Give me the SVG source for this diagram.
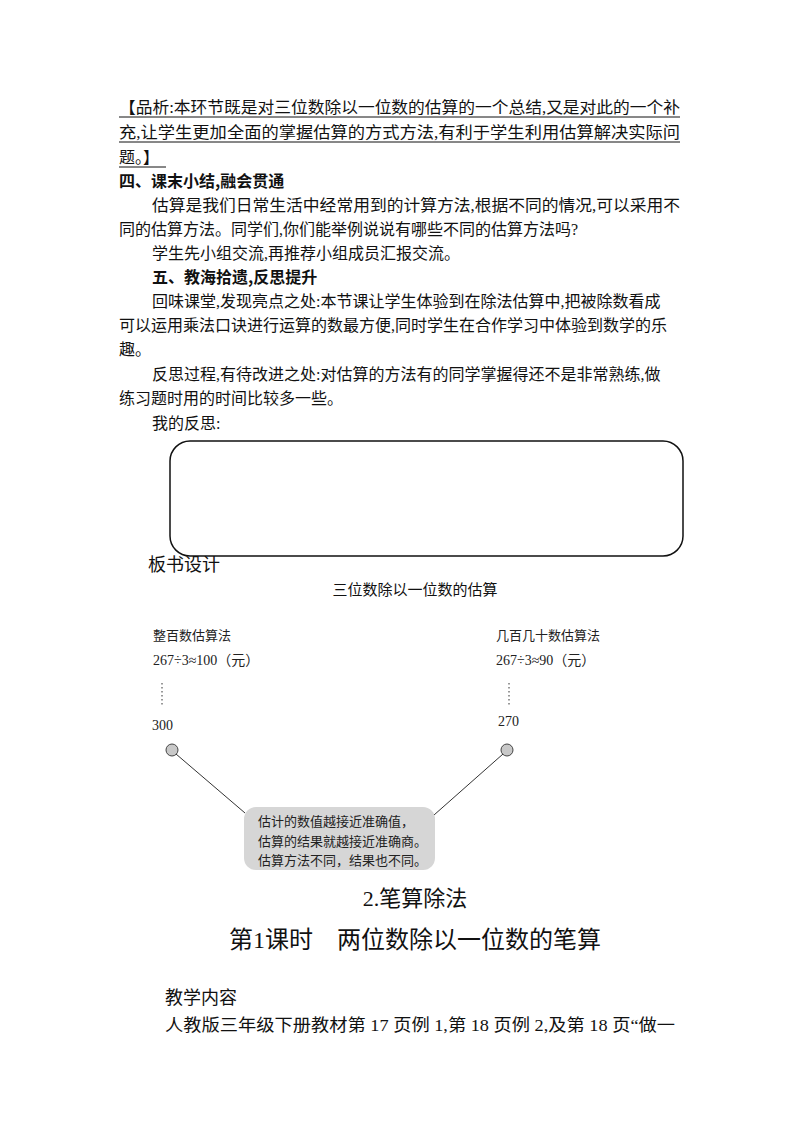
<svg xmlns="http://www.w3.org/2000/svg" width="800" height="1132" viewBox="0 0 800 1132">
<style>
.t{font-family:"Liberation Serif","Noto Sans CJK SC",serif;font-size:16px;fill:#111}
.h{font-family:"Noto Sans CJK SC",sans-serif;font-size:16px;fill:#111;font-weight:bold}
.s{font-family:"Liberation Serif","Noto Sans CJK SC",serif;font-size:14px;fill:#222}
.b{font-family:"Noto Sans CJK SC",serif;font-size:13px;fill:#222}
.ln{stroke:#333;stroke-width:1;fill:none}
</style>
<rect width="800" height="1132" fill="#fff"/>
<g id="text">
<text class="t" x="119" y="113" textLength="561" lengthAdjust="spacingAndGlyphs">【品析:本环节既是对三位数除以一位数的估算的一个总结,又是对此的一个补</text>
<text class="t" x="119" y="138" textLength="561" lengthAdjust="spacingAndGlyphs">充,让学生更加全面的掌握估算的方式方法,有利于学生利用估算解决实际问</text>
<text class="t" x="119" y="163">题。】</text>
<line x1="119" y1="117" x2="680" y2="117" stroke="#111"/>
<line x1="119" y1="142" x2="680" y2="142" stroke="#111"/>
<line x1="119" y1="167" x2="166" y2="167" stroke="#111"/>
<text class="h" x="119" y="187">四、课末小结,融会贯通</text>
<text class="t" x="152" y="211" textLength="528" lengthAdjust="spacingAndGlyphs">估算是我们日常生活中经常用到的计算方法,根据不同的情况,可以采用不</text>
<text class="t" x="119" y="235">同的估算方法。同学们,你们能举例说说有哪些不同的估算方法吗?</text>
<text class="t" x="152" y="259">学生先小组交流,再推荐小组成员汇报交流。</text>
<text class="h" x="152" y="283">五、教海拾遗,反思提升</text>
<text class="t" x="152" y="307">回味课堂,发现亮点之处:本节课让学生体验到在除法估算中,把被除数看成</text>
<text class="t" x="119" y="331">可以运用乘法口诀进行运算的数最方便,同时学生在合作学习中体验到数学的乐</text>
<text class="t" x="119" y="355">趣。</text>
<text class="t" x="152" y="380">反思过程,有待改进之处:对估算的方法有的同学掌握得还不是非常熟练,做</text>
<text class="t" x="119" y="404">练习题时用的时间比较多一些。</text>
<text class="t" x="152" y="429">我的反思:</text>
<text class="t" x="148" y="571" style="font-size:18px">板书设计</text>
<text class="t" x="415" y="595" text-anchor="middle" style="font-size:15px">三位数除以一位数的估算</text>
<text class="t" x="415" y="906" text-anchor="middle" style="font-size:22px">2.笔算除法</text>
<text class="t" x="415" y="948" text-anchor="middle" style="font-size:24px">第1课时　两位数除以一位数的笔算</text>
<text class="t" x="165" y="1004" style="font-size:18px">教学内容</text>
<text class="t" x="165" y="1031" style="font-size:16.5px" textLength="510" lengthAdjust="spacingAndGlyphs">人教版三年级下册教材第 17 页例 1,第 18 页例 2,及第 18 页“做一</text>
</g>
<g id="reflect-box"><rect x="170" y="441" width="513" height="115" rx="20" fill="#fff" stroke="#111" stroke-width="1.5"/></g>
<g id="left">
<text class="b" x="153" y="640">整百数估算法</text>
<text class="s" x="153" y="665">267÷3≈100（元）</text>
<line x1="162" y1="683" x2="162" y2="706" stroke="#333" stroke-dasharray="1.5,2.5"/>
<text class="s" x="152" y="730">300</text>
<circle cx="172" cy="750" r="6" fill="#c8c8c8" stroke="#444"/>
</g>
<g id="right">
<text class="b" x="496" y="640">几百几十数估算法</text>
<text class="s" x="496" y="665">267÷3≈90（元）</text>
<line x1="509" y1="683" x2="509" y2="706" stroke="#333" stroke-dasharray="1.5,2.5"/>
<text class="s" x="498" y="726">270</text>
<circle cx="507" cy="750" r="6" fill="#c8c8c8" stroke="#444"/>
</g>
<g id="connectors">
<line class="ln" x1="176" y1="754" x2="245" y2="813"/>
<line class="ln" x1="503" y1="754" x2="434" y2="815"/>
</g>
<g id="note">
<rect x="244" y="807" width="191" height="63" rx="12" fill="#d6d6d6"/>
<text class="b" x="258" y="826">估计的数值越接近准确值，</text>
<text class="b" x="258" y="846">估算的结果就越接近准确商。</text>
<text class="b" x="258" y="865">估算方法不同，结果也不同。</text>
</g>
</svg>
